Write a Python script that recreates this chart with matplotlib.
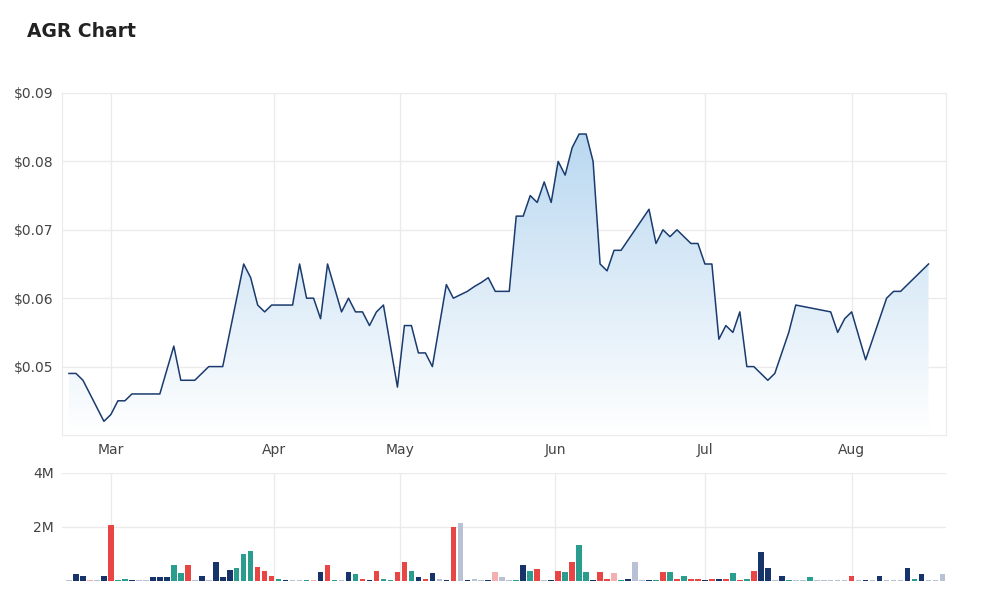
import matplotlib
matplotlib.use("Agg")
import matplotlib.pyplot as plt
import numpy as np
from matplotlib.patches import Polygon

price = [0.049,0.049,0.048,0.046,0.044,0.042,0.043,0.045,0.045,0.046,0.046,0.046,0.046,0.046,0.0495,0.053,
         0.048,0.048,0.048,0.049,0.050,0.050,0.050,0.055,0.060,0.065,0.063,0.059,0.058,0.059,0.059,0.059,
         0.059,0.065,0.060,0.060,0.057,0.065,0.0615,0.058,0.060,0.058,0.058,0.056,0.058,0.059,0.053,0.047,
         0.056,0.056,0.052,0.052,0.050,0.056,0.062,0.060,0.0605,0.061,0.0617,0.0623,0.063,0.061,0.061,0.061,
         0.072,0.072,0.075,0.074,0.077,0.074,0.080,0.078,0.082,0.084,0.084,0.080,0.065,0.064,0.067,0.067,
         0.0685,0.070,0.0715,0.073,0.068,0.070,0.069,0.070,0.069,0.068,0.068,0.065,0.065,0.054,0.056,0.055,
         0.058,0.050,0.050,0.049,0.048,0.049,0.052,0.055,0.059,0.0588,0.0586,0.0584,0.0582,0.058,0.055,0.057,
         0.058,0.0545,0.051,0.054,0.057,0.060,0.061,0.061,0.062,0.063,0.064,0.065]

volume = [0.02,0.25,0.18,0.02,0.02,0.18,2.08,0.05,0.08,0.05,0.02,0.02,0.13,0.13,0.13,0.58,0.28,0.58,0.02,0.18,
          0.02,0.71,0.13,0.42,0.49,0.99,1.11,0.53,0.38,0.20,0.08,0.04,0.02,0.02,0.03,0.02,0.34,0.61,0.04,0.02,
          0.34,0.25,0.08,0.04,0.38,0.08,0.04,0.34,0.71,0.38,0.13,0.08,0.28,0.08,0.02,2.00,2.13,0.02,0.08,0.02,
          0.02,0.34,0.13,0.02,0.02,0.58,0.38,0.46,0.04,0.02,0.38,0.34,0.71,1.32,0.34,0.04,0.34,0.08,0.28,0.02,
          0.08,0.71,0.02,0.02,0.04,0.34,0.34,0.08,0.18,0.08,0.08,0.04,0.08,0.08,0.08,0.28,0.04,0.08,0.38,1.06,
          0.49,0.02,0.20,0.04,0.02,0.02,0.13,0.02,0.02,0.02,0.02,0.02,0.20,0.02,0.04,0.02,0.18,0.02,0.02,0.02,
          0.49,0.08,0.25,0.02,0.02,0.25]
vol_kind = list("gnnpgnrttnggnnnttrgngnnntttrrrtnggtpnrtgntrnrttrrtnrngnrgnggnpggtntrgnrtrttnrrptnggntrtrtrrnrnrtrtrnngntggtgggggrgngngggntngggn")

month_labels = ["Mar", "Apr", "May", "Jun", "Jul", "Aug"]
month_pos = [6, 29.3, 47.4, 69.6, 91, 112]
price_ticks = [0.05, 0.06, 0.07, 0.08, 0.09]
vol_ticks = [2, 4]

cmap = {"n": "#17346a", "t": "#2a9d8f", "r": "#e84545", "g": "#b8c2d4", "p": "#f4b0b0"}
grid_c = "#ebebeb"

fig = plt.figure(figsize=(10, 6.12), dpi=100)
fig.text(0.027, 0.94, "AGR Chart", fontsize=13.5, fontweight="bold", color="#222222")

ax = fig.add_axes([0.062, 1 - 435/612, 0.884, (435-93)/612])
x = np.arange(len(price))
xmin, xmax = -1, len(volume) - 0.5
ax.set_xlim(xmin, xmax)
ax.set_ylim(0.04, 0.09)
ax.plot(x, price, color="#1a3b6e", lw=1.1, zorder=3)
grad = np.linspace(0, 1, 256).reshape(-1, 1)
from matplotlib.colors import LinearSegmentedColormap
gc = LinearSegmentedColormap.from_list("g", ["#ffffff", "#b8d7f0"])
im = ax.imshow(grad, cmap=gc, aspect="auto", extent=[xmin, xmax, 0.04, 0.085],
               origin="lower", zorder=2)
poly = Polygon(np.column_stack([np.r_[x[0], x, x[-1]], np.r_[0.04, price, 0.04]]),
               closed=True, transform=ax.transData, facecolor="none", edgecolor="none")
ax.add_patch(poly)
im.set_clip_path(poly)
ax.set_yticks(price_ticks)
ax.set_yticklabels([f"${v:.2f}" for v in price_ticks])
ax.set_xticks(month_pos)
ax.set_xticklabels(month_labels)
ax.grid(True, color=grid_c, lw=1, zorder=0)
for s in ax.spines.values():
    s.set_color(grid_c)
ax.tick_params(length=0, labelsize=10, colors="#444444", pad=6)

axv = fig.add_axes([0.062, 1 - 581/612, 0.884, (581-473)/612])
xv = np.arange(len(volume))
axv.bar(xv, volume, width=0.8, color=[cmap[k] for k in vol_kind[:len(volume)]], zorder=3)
axv.set_xlim(xmin, xmax)
axv.set_ylim(0, 4)
axv.set_yticks(vol_ticks)
axv.set_yticklabels([f"{v}M" for v in vol_ticks])
axv.set_xticks(month_pos)
axv.set_xticklabels([])
axv.grid(True, color=grid_c, lw=1, zorder=0)
for s in axv.spines.values():
    s.set_visible(False)
axv.tick_params(length=0, labelsize=10, colors="#444444", pad=6)

fig.savefig("out.png", dpi=100)
